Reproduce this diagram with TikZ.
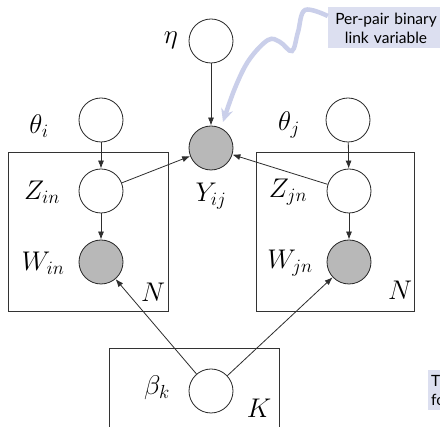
\RequirePackage{fix-cm}
\documentclass[tikz,border=0pt]{standalone}
\usepackage{fontspec}
\newfontfamily\notefont{Lato}
\usetikzlibrary{arrows.meta,positioning}
\definecolor{NoteFill}{HTML}{DCDFF0}
\definecolor{NoteArrow}{HTML}{CACFEA}
\definecolor{Edge}{HTML}{2E2E2E}

\begin{document}
\begin{tikzpicture}[x=1pt,y=-1pt,font=\fontsize{27}{32}\selectfont,
      var/.style={circle,draw=black!85,fill=white,line width=0.8pt,
                  minimum size=44pt,inner sep=0pt},
      obs/.style={var,fill=black!28},
      plate/.style={draw=black!80,line width=0.8pt},
      edge/.style={-{Latex[length=8pt,width=6pt]},draw=Edge,line width=0.8pt},
      note/.style={fill=NoteFill,text=black,align=center,
                   font=\notefont\fontsize{15.5}{19}\selectfont,
                   inner xsep=3pt,inner ysep=3pt},
      pointer/.style={-{Stealth[length=13pt,width=12pt]},draw=NoteArrow,
                      line width=4.5pt}]
    \fill[white] (0,0) rectangle (440,427);
    \clip (0,0) rectangle (440,427);

    % plates
    \draw[plate] (8,152) rectangle (168,311);
    \draw[plate] (256,152) rectangle (414,311);
    \draw[plate] (109,348) rectangle (279,450);
    \node (plN1) at (153,292) {$N$};
    \node (plN2) at (400,290) {$N$};
    \node (plK) at (259,408) {$K$};

    % variables
    \node[var] (eta) at (211,41) {};
    \node[var] (thetai) at (101,120) {};
    \node[var] (thetaj) at (348,120) {};
    \node[obs] (Y) at (211,148) {};
    \node[var] (Zi) at (101,191) {};
    \node[obs] (Wi) at (101,262) {};
    \node[var] (Zj) at (349,191) {};
    \node[obs] (Wj) at (349,262) {};
    \node[var] (beta) at (211,391) {};

    % labels
    \node (leta) at (171,40) {$\eta$};
    \node (lthetai) at (39,126) {$\theta_i$};
    \node (lthetaj) at (289,125) {$\theta_j$};
    \node (lY) at (211,196) {$Y_{ij}$};
    \node (lZi) at (42,192) {$Z_{in}$};
    \node (lWi) at (43,263) {$W_{in}$};
    \node (lZj) at (288,192) {$Z_{jn}$};
    \node (lWj) at (290,263) {$W_{jn}$};
    \node (lbeta) at (157,388) {$\beta_k$};

    % edges
    \draw[edge] (eta) -- (Y);
    \draw[edge] (thetai) -- (Zi);
    \draw[edge] (Zi) -- (Wi);
    \draw[edge] (thetaj) -- (Zj);
    \draw[edge] (Zj) -- (Wj);
    \draw[edge] (Zi) -- (Y);
    \draw[edge] (Zj) -- (Y);
    \draw[edge] (beta) -- (Wi);
    \draw[edge] (beta) -- (Wj);

    % callouts
    \node[note,text width=110pt,minimum height=41pt] (note) at (386,28)
      {Per-pair binary\\link variable};
    \node[note,align=left,anchor=north west,minimum height=40pt] (note2)
      at (428,370) {Th\\fo};
    \coordinate (tip) at (223,122);
    \draw[pointer] plot[smooth,tension=0.6] coordinates {([yshift=12pt]note.west)
      (305,10) (298,32) (292,51) (280,42) (268,40) (249,60) (235,88) (tip)};
  \end{tikzpicture}
\end{document}
